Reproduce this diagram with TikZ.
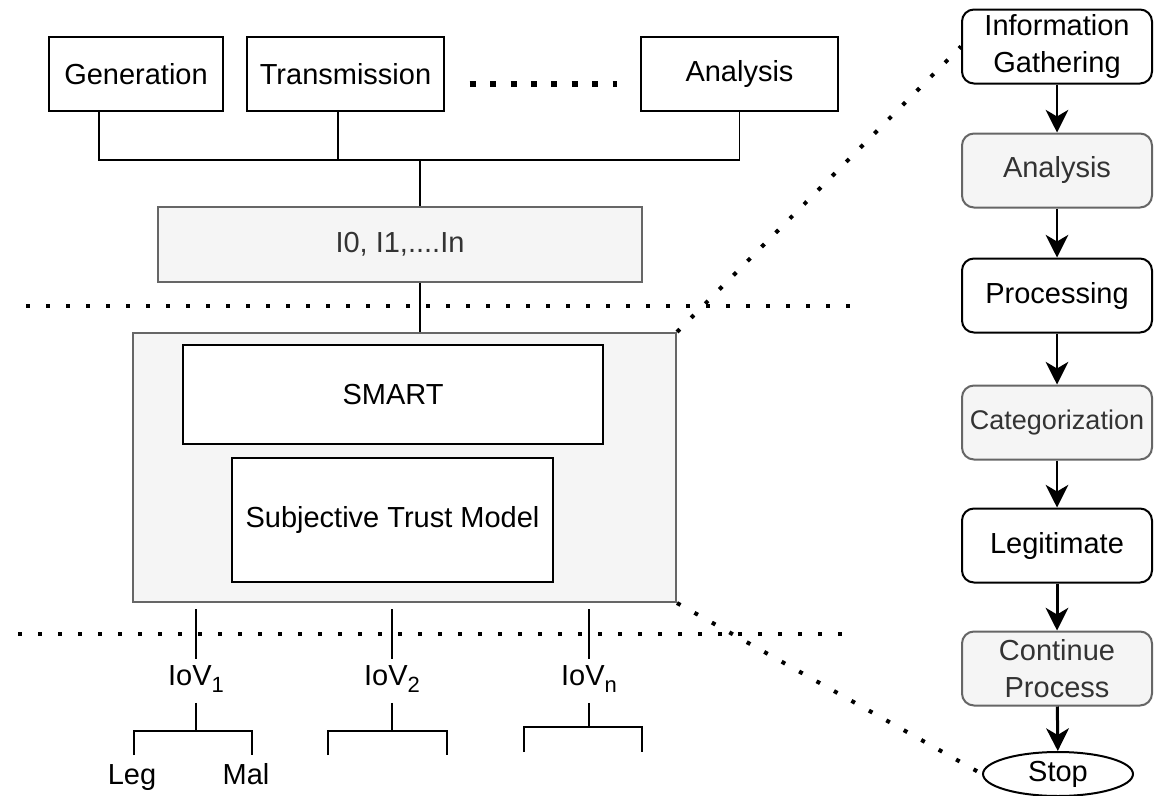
\documentclass[tikz,border=0pt]{standalone}
\usepackage{fontspec}
\setmainfont{Liberation Sans}
\usetikzlibrary{arrows.meta, shapes.geometric}

\definecolor{boxgray}{HTML}{F5F5F5}
\definecolor{edgegray}{HTML}{666666}
\definecolor{textgray}{HTML}{333333}
\newcommand{\iovsub}[1]{\raisebox{-5.25pt}{\fontsize{16.5}{16.5}\selectfont #1}}

\begin{document}
\begin{tikzpicture}[x=0.75pt, y=-0.75pt,
	font=\fontsize{21.75}{27.75}\selectfont,
	box/.style={draw, line width=1.1pt, inner sep=0pt, minimum height=55.5pt, align=center},
	greybox/.style={box, fill=boxgray, draw=edgegray, text=textgray},
	stage/.style={draw, line width=1.5pt, rounded corners=9pt, minimum width=142.5pt, minimum height=55.5pt, inner sep=0pt, align=center},
	greystage/.style={stage, fill=boxgray, draw=edgegray, text=textgray},
	flow/.style={line width=1.5pt, -{Stealth[length=17pt, width=17pt, inset=5pt]}},
	dots/.style={line width=3pt, dash pattern=on 3pt off 12pt},
	wire/.style={line width=1.1pt},
	leaf/.style={anchor=base, inner sep=0pt, inner ysep=4.5pt}]
	\useasboundingbox (0,0) rectangle (1154,796);

	% sources
	\node [box, minimum width=130.5pt] (gen) at (136,74) {Generation};
	\node [box, minimum width=147.75pt] (trans) at (345.5,74) {Transmission};
	\node [box, minimum width=147.75pt] (ana) at (739.5,74) {Analysis};
	\draw [dots, line width=4.5pt, dash pattern=on 4.5pt off 10.8pt] ([xshift=18.75pt, yshift=-7.5pt]trans.east) -- ([xshift=-17.25pt, yshift=-7.5pt]ana.west);

	\coordinate (hub) at (420,160);
	\coordinate (gdrop) at (99,160);
	\coordinate (tdrop) at (338,160);
	\draw [wire] (gdrop |- gen.south) -- (gdrop) -- (ana.south |- hub) -- (ana.south);
	\draw [wire] (tdrop |- trans.south) -- (tdrop);

	\node [greybox, minimum width=363pt, minimum height=56.25pt] (io) at (400,244.5) {I0, I1,....In};
	\draw [wire] (hub) -- (hub |- io.north);

	% trust layer
	\node [greybox, line width=1.5pt, minimum width=407.25pt, minimum height=201.75pt] (core) at (404.5,467.5) {};
	\node [box, fill=white, minimum width=315pt, minimum height=74.25pt] (smart) at (393,394.5) {SMART};
	\node [box, fill=white, minimum width=240.75pt, minimum height=93pt] (stm) at (392.5,520) {Subjective Trust Model};
	\draw [wire] (hub |- io.south) -- (hub |- core.north);

	\draw [dots] (26,306) -- (858,306);
	\draw [dots] (18,634) -- (842,634);

	% vehicles
	\coordinate (drop) at (0,609);
	\node [leaf] (iov1) at (196,685) {IoV\iovsub{1}};
	\node [leaf] (iov2) at (392,685) {IoV\iovsub{2}};
	\node [leaf] (iovn) at (589,685) {IoV\iovsub{n}};
	\draw [wire] (iov1 |- drop) -- (iov1.north);
	\draw [wire] (iov2 |- drop) -- (iov2.north);
	\draw [wire] (iovn |- drop) -- (iovn.north);

	\coordinate (j1) at (196,731);
	\coordinate (l1) at (134,755);
	\coordinate (r1) at (252,755);
	\coordinate (j2) at (392,731);
	\coordinate (l2) at (328,755);
	\coordinate (r2) at (447,755);
	\coordinate (jn) at (589,727);
	\coordinate (ln) at (524,752);
	\coordinate (rn) at (642,752);
	\draw [wire] ([yshift=-3.5pt]iov1.south) -- (j1);
	\draw [wire] ([yshift=-3.5pt]iov2.south) -- (j2);
	\draw [wire] ([yshift=-3.5pt]iovn.south) -- (jn);
	\draw [wire] (l1) |- (j1) -| (r1);
	\draw [wire] (l2) |- (j2) -| (r2);
	\draw [wire] (ln) |- (jn) -| (rn);
	\node [anchor=base] (leg) at (132,784) {Leg};
	\node [anchor=base] (mal) at (246,784) {Mal};

	% process flow
	\node [stage] (gather) at (1057,46.5) {Information\\Gathering};
	\node [greystage] (check) at (1057,170.5) {Analysis};
	\node [stage] (proc) at (1057,295.5) {Processing};
	\node [greystage, font=\fontsize{20.25}{26}\selectfont] (cat) at (1057,422.5) {Categorization};
	\node [stage] (legit) at (1057,545.5) {Legitimate};
	\node [greystage] (cont) at (1057,668.5) {Continue\\Process};
	\node [ellipse, draw, line width=1.5pt, minimum width=112.5pt, minimum height=33pt, inner sep=0pt] (stop) at (1058,774) {Stop};
	\draw [flow] (gather) -- (check);
	\draw [flow] (check) -- (proc);
	\draw [flow] (proc) -- (cat);
	\draw [flow] (cat) -- (legit);
	\draw [flow, line width=2.25pt] (legit) -- (cont);
	\draw [flow, line width=2.25pt] (cont) -- (stop);

	\draw [dots] (core.north east) -- (gather.west);
	\draw [dots] (core.south east) -- (stop.west);
\end{tikzpicture}
\end{document}
